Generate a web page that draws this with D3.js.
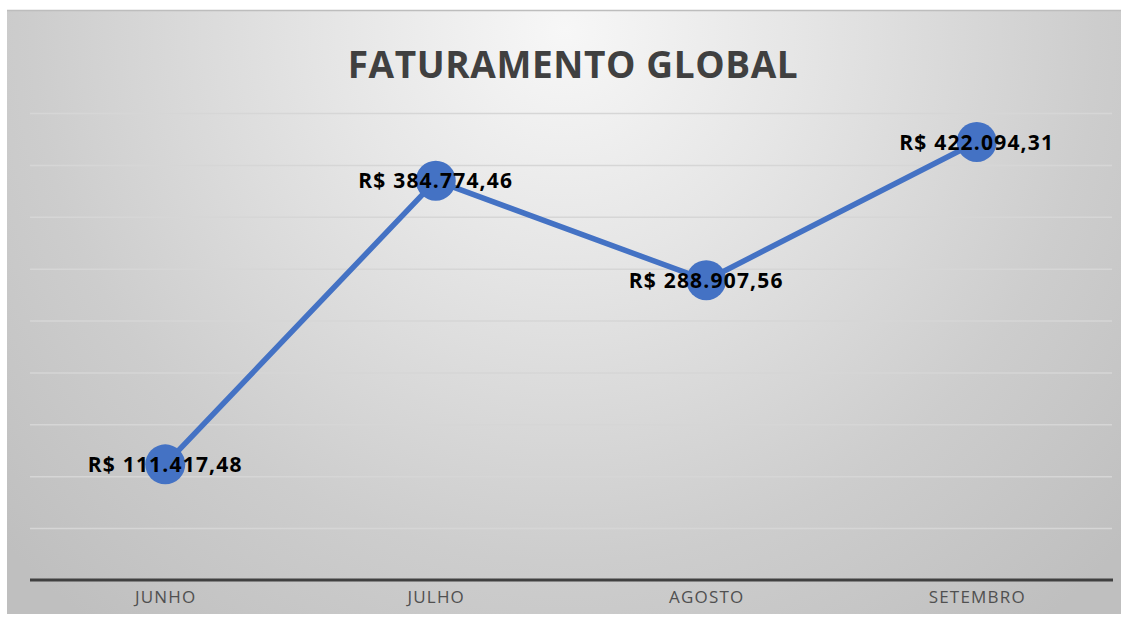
<!DOCTYPE html>
<html>
<head>
<meta charset="utf-8">
<script src="https://cdn.jsdelivr.net/npm/d3@7"></script>
<style>
  body { margin: 0; background: #fff; }
</style>
</head>
<body>
<div id="chart"></div>
<script>
var months = ["JUNHO", "JULHO", "AGOSTO", "SETEMBRO"];
var revenue = [111417.48, 384774.46, 288907.56, 422094.31];
var yTicks = [50000, 100000, 150000, 200000, 250000, 300000, 350000, 400000, 450000];
var chartTitle = "FATURAMENTO GLOBAL";

var svgWidth = 1128;
var svgHeight = 617;

var svg = d3.select("#chart")
  .append("svg")
  .attr("width", svgWidth)
  .attr("height", svgHeight);

// background gradient like the office chart preset
var defs = svg.append("defs");
var grad = defs.append("radialGradient")
  .attr("id", "bg")
  .attr("gradientUnits", "userSpaceOnUse")
  .attr("cx", 565)
  .attr("cy", 30)
  .attr("r", 760);
grad.append("stop").attr("offset", "0").attr("stop-color", "#f7f7f7");
grad.append("stop").attr("offset", "0.3").attr("stop-color", "#e6e6e6");
grad.append("stop").attr("offset", "0.7").attr("stop-color", "#cdcdcd");
grad.append("stop").attr("offset", "1").attr("stop-color", "#bfbfbf");

svg.append("rect")
  .attr("x", 7)
  .attr("y", 10)
  .attr("width", 1114)
  .attr("height", 604)
  .attr("fill", "url(#bg)");

svg.append("line")
  .attr("x1", 7).attr("x2", 1121)
  .attr("y1", 10.5).attr("y2", 10.5)
  .attr("stroke", "#bdbdbd")
  .attr("stroke-width", 1.5);

var xScale = d3.scalePoint()
  .domain(months)
  .range([30, 1112])
  .padding(0.5);

var yScale = d3.scaleLinear()
  .domain([0, 450000])
  .range([580, 113]);

// gridlines
svg.append("g")
  .attr("transform", "translate(30,0)")
  .call(d3.axisLeft(yScale).tickValues(yTicks).tickSize(-1082).tickFormat(""))
  .call(g => g.select(".domain").remove())
  .call(g => g.selectAll(".tick line")
    .attr("stroke", "#d6d6d6")
    .attr("stroke-width", 1.5));

// category axis
var xAxis = svg.append("g")
  .attr("transform", "translate(0,580)")
  .call(d3.axisBottom(xScale).tickSize(0).tickPadding(10));

xAxis.select(".domain")
  .attr("d", "M30,0H1113")
  .attr("stroke", "#404040")
  .attr("stroke-width", 3);

xAxis.selectAll("text")
  .attr("fill", "#505050")
  .attr("font-family", "'Open Sans', sans-serif")
  .attr("font-size", "17px")
  .attr("letter-spacing", "1.2px")
  .attr("dy", "0.75em");

svg.append("text")
  .attr("x", 573)
  .attr("y", 78)
  .attr("text-anchor", "middle")
  .attr("font-family", "'Open Sans', sans-serif")
  .attr("font-weight", "bold")
  .attr("font-size", "37px")
  .attr("letter-spacing", "0.6px")
  .attr("fill", "#404040")
  .text(chartTitle);

var line = d3.line()
  .x((d, i) => xScale(months[i]))
  .y(d => yScale(d));

svg.append("path")
  .datum(revenue)
  .attr("d", line)
  .attr("fill", "none")
  .attr("stroke", "#4472c4")
  .attr("stroke-width", 5.5)
  .attr("stroke-linejoin", "round");

svg.selectAll(".dot")
  .data(revenue)
  .enter()
  .append("circle")
  .attr("class", "dot")
  .attr("cx", (d, i) => xScale(months[i]))
  .attr("cy", d => yScale(d))
  .attr("r", 20)
  .attr("fill", "#4472c4");

var ptBR = d3.formatLocale({
  decimal: ",",
  thousands: ".",
  grouping: [3],
  currency: ["R$ ", ""]
});
var money = ptBR.format("$,.2f");

svg.selectAll(".lbl")
  .data(revenue)
  .enter()
  .append("text")
  .attr("class", "lbl")
  .attr("x", (d, i) => xScale(months[i]))
  .attr("y", d => yScale(d))
  .attr("dy", "0.36em")
  .attr("text-anchor", "middle")
  .attr("font-family", "'Open Sans', sans-serif")
  .attr("font-weight", "bold")
  .attr("font-size", "21px")
  .attr("letter-spacing", "1.2px")
  .attr("fill", "#000")
  .text(d => money(d));
</script>
</body>
</html>
